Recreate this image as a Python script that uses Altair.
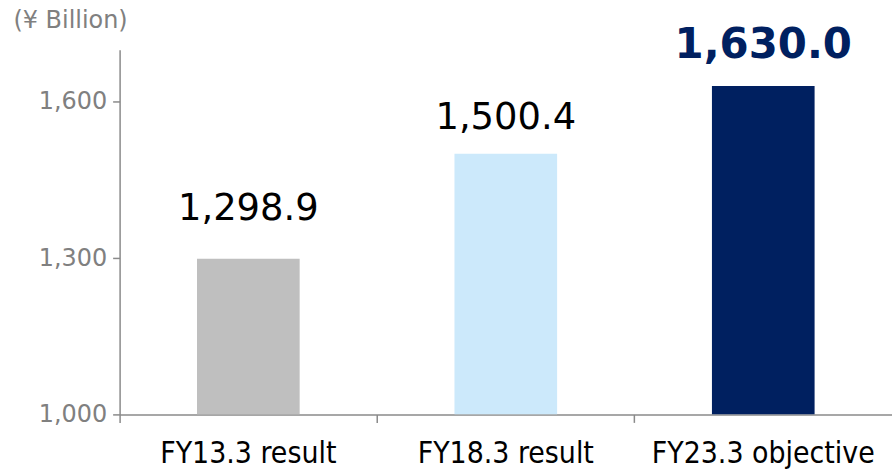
import altair as alt
import pandas as pd

# Revenue by fiscal year (¥ billion)
categories = ["FY13.3 result", "FY18.3 result", "FY23.3 objective"]
values = [1298.9, 1500.4, 1630.0]

bar_colors = ["#bfbfbf", "#cce9fb", "#002060"]
grey = "#8a8a8a"
font = "DejaVu Sans"
cond_font = "DejaVu Sans Condensed, Liberation Sans Narrow, DejaVu Sans"

df = pd.DataFrame({"category": categories, "value": values})

x = alt.X(
    "category:N",
    sort=categories,
    scale=alt.Scale(paddingInner=0, paddingOuter=0),
    axis=alt.Axis(
        title=None,
        labelAngle=0,
        labelFont=cond_font,
        labelFontSize=30,
        labelColor="#000000",
        labelPadding=16,
        labelLimit=0,
        tickSize=8,
        tickColor=grey,
        tickWidth=1.5,
        bandPosition=0,
        domainColor=grey,
        domainWidth=1.5,
        grid=False,
    ),
)

y = alt.Y(
    "value:Q",
    scale=alt.Scale(domain=[1000, 1700], nice=False, zero=False),
    axis=alt.Axis(
        title="(¥ Billion)",
        titleAngle=0,
        titleX=-107,
        titleY=-22,
        titleAlign="left",
        titleBaseline="alphabetic",
        titleFont=font,
        titleFontSize=24,
        titleFontWeight="normal",
        titleColor="#808080",
        values=[1000, 1300, 1600],
        format=",.0f",
        labelFont=font,
        labelFontSize=24,
        labelColor="#808080",
        labelPadding=6,
        tickSize=7,
        tickColor=grey,
        tickWidth=1.5,
        domainColor=grey,
        domainWidth=1.5,
        grid=False,
    ),
)

base = alt.Chart(df)

bars = base.mark_bar(size=103, clip=True).encode(
    x=x,
    y=y,
    y2=alt.datum(1000),
    color=alt.Color("category:N", sort=categories,
                    scale=alt.Scale(domain=categories, range=bar_colors),
                    legend=None),
)


def value_label(cat, dy, size, weight, color):
    return base.transform_filter(alt.datum.category == cat).mark_text(
        baseline="alphabetic", dy=dy, font=font, fontSize=size,
        fontWeight=weight, color=color,
    ).encode(
        x=alt.X("category:N", sort=categories),
        y=alt.Y("value:Q"),
        text=alt.Text("value:Q", format=",.1f"),
    )


labels = (
    value_label(categories[0], -39, 37, "normal", "#000000")
    + value_label(categories[1], -25, 37, "normal", "#000000")
    + value_label(categories[2], -28, 42, "bold", "#002060")
)

chart = (
    alt.layer(bars, labels)
    .properties(
        width=775,
        height=366,
        autosize=alt.AutoSizeParams(type="none"),
        padding={"left": 120, "top": 49, "right": 0, "bottom": 60},
        background="white",
    )
    .configure_view(stroke=None)
)

chart.save("out.html", embed_options={"renderer": "svg", "actions": False})
